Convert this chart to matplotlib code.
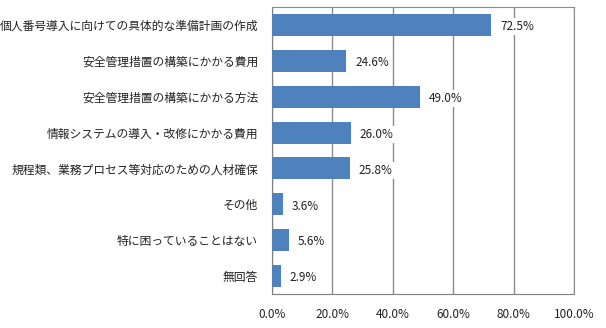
import matplotlib.pyplot as plt
from matplotlib.ticker import FuncFormatter, MultipleLocator

plt.rcParams['font.family'] = ['Noto Sans CJK JP', 'DejaVu Sans']

# 回答項目と割合(%)
categories = [
    '個人番号導入に向けての具体的な準備計画の作成',
    '安全管理措置の構築にかかる費用',
    '安全管理措置の構築にかかる方法',
    '情報システムの導入・改修にかかる費用',
    '規程類、業務プロセス等対応のための人材確保',
    'その他',
    '特に困っていることはない',
    '無回答',
]
values = [72.5, 24.6, 49.0, 26.0, 25.8, 3.6, 5.6, 2.9]

fig = plt.figure(figsize=(6.06, 3.28), dpi=100)
ax = fig.add_axes([272 / 606, 1 - 294 / 328, (574 - 272) / 606, (294 - 7) / 328])

y = range(len(categories))
ax.barh(y, values, height=0.61, color='#4F81BD', zorder=3)
for yi, v in zip(y, values):
    ax.text(v + 3.0, yi + 0.05, f'{v:.1f}%', va='center', ha='left', fontsize=8.5,
            color='#222222', zorder=4,
            bbox=dict(facecolor='white', edgecolor='none', pad=1.5))

ax.set_xlim(0, 100)
ax.set_ylim(len(categories) - 0.5, -0.5)
ax.set_yticks(list(y))
ax.set_yticklabels(categories, fontsize=8.5, color='#222222')
ax.xaxis.set_major_locator(MultipleLocator(20))
ax.xaxis.set_major_formatter(FuncFormatter(lambda x, _: f'{x:.1f}%'))
ax.tick_params(axis='x', labelsize=8.5, colors='#222222', length=0, pad=10)
ax.tick_params(axis='y', length=0, pad=10)
ax.grid(axis='x', color='#8c8c8c', linewidth=1, zorder=0)
for side in ['left', 'bottom']:
    ax.spines[side].set_color('#7f7f7f')
for side in ['top', 'right']:
    ax.spines[side].set_color('#8c8c8c')

fig.savefig('out.png', dpi=100)
